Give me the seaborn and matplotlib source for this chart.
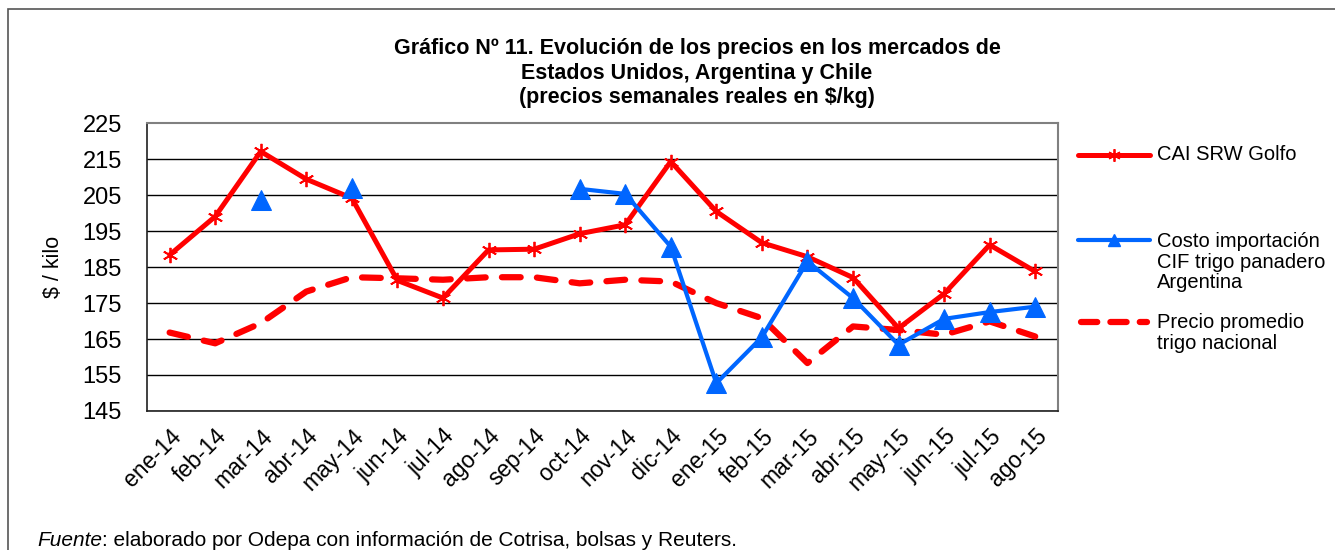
import numpy as np
import pandas as pd
import matplotlib
matplotlib.use("Agg")
import matplotlib.pyplot as plt
from matplotlib.lines import Line2D
from matplotlib.patches import Rectangle
import seaborn as sns

# datos
meses = ["ene-14", "feb-14", "mar-14", "abr-14", "may-14", "jun-14", "jul-14",
         "ago-14", "sep-14", "oct-14", "nov-14", "dic-14", "ene-15", "feb-15",
         "mar-15", "abr-15", "may-15", "jun-15", "jul-15", "ago-15"]
cai_srw = [188.4, 199.1, 217.2, 209.5, 204.2, 181.3, 176.4, 189.8, 190.0, 194.3,
           196.8, 214.4, 200.5, 191.8, 187.9, 182.1, 168.0, 177.6, 191.2, 183.8]
costo_arg = [np.nan, np.nan, 203.8, np.nan, 207.1, np.nan, np.nan, np.nan, np.nan, 206.8,
             205.4, 190.7, 152.7, 165.5, 186.6, 176.4, 163.4, 170.6, 172.5, 174.0]
precio_nac = [166.8, 163.8, 169.4, 178.2, 182.2, 181.9, 181.5, 182.2, 182.2, 180.5,
              181.5, 181.0, 175.0, 170.8, 158.3, 168.5, 167.5, 166.2, 169.9, 165.7]
yticks = list(range(145, 226, 10))

ROJO = "#FF0000"
AZUL = "#0066FF"

sns.set_style("white")
plt.rcParams["font.family"] = ["Liberation Sans", "DejaVu Sans"]
plt.rcParams["text.color"] = "black"
plt.rcParams["axes.labelcolor"] = "black"
plt.rcParams["xtick.color"] = "black"
plt.rcParams["ytick.color"] = "black"

df = pd.DataFrame({"x": np.arange(len(meses)), "mes": meses, "cai": cai_srw,
                   "costo": costo_arg, "precio": precio_nac})
# tramos continuos de la serie azul (se corta donde falta dato)
df["tramo"] = df["costo"].isna().cumsum()
azul = df.dropna(subset=["costo"])

fig = plt.figure(figsize=(13.35, 5.5), dpi=100)
ax = fig.add_axes([0.110, 0.253, 0.6825, 0.5225])

for y in yticks[:-1]:
    ax.axhline(y, color="black", lw=1, zorder=0)

sns.lineplot(data=df, x="x", y="precio", ax=ax, color=ROJO, lw=4.5,
             dashes=False, zorder=2, solid_capstyle="round")
ax.lines[-1].set_dashes((3, 2.6))
ax.lines[-1].set_dash_capstyle("round")
sns.lineplot(data=df, x="x", y="cai", ax=ax, color=ROJO, lw=3.6, zorder=3,
             marker=(6, 2, 0), markersize=11, markeredgecolor=ROJO, markeredgewidth=1.3)
sns.lineplot(data=azul, x="x", y="costo", units="tramo", estimator=None, ax=ax,
             color=AZUL, lw=3.0, zorder=4, marker="^", markersize=15,
             markeredgecolor=AZUL)

ax.set_xlim(-0.5, len(meses) - 0.5)
ax.set_ylim(145, 225)
ax.set_yticks(yticks)
ax.set_yticklabels([str(v) for v in yticks], fontsize=17)
ax.set_xticks(df["x"])
ax.set_xticklabels(meses, rotation=45, ha="right", rotation_mode="anchor", fontsize=16.5)
ax.set_xticks(np.arange(-0.5, len(meses), 1), minor=True)
ax.tick_params(axis="x", which="major", length=0, pad=10)
ax.tick_params(axis="x", which="minor", length=7, width=1, color="black", direction="out")
ax.tick_params(axis="y", length=6, width=1, color="black", direction="out", pad=12)
ax.set_xlabel("")
ax.set_ylabel("\\$ / kilo", fontsize=15.5, labelpad=13)
for s in ["top", "right"]:
    ax.spines[s].set_color("#808080")
    ax.spines[s].set_linewidth(1.5)
for s in ["left", "bottom"]:
    ax.spines[s].set_color("#202020")
    ax.spines[s].set_linewidth(1.2)

# marco exterior
fig.add_artist(Rectangle((8 / 1335, -0.1), 1.2, 1 - 9 / 550 + 0.1, transform=fig.transFigure,
                         fill=False, ec="#555555", lw=1.2))

fig.text(697 / 1335, 1 - 73 / 550,
         "Gráfico Nº 11. Evolución de los precios en los mercados de\n"
         "Estados Unidos, Argentina y Chile\n"
         "(precios semanales reales en $/kg)",
         ha="center", va="center", fontsize=15.5, fontweight="bold", linespacing=1.2)

# leyenda
W, H = 1335, 550
def fx(px):
    return px / W
def fy(py):
    return 1 - py / H

fig.add_artist(Line2D([fx(1078), fx(1150)], [fy(155), fy(155)], color=ROJO, lw=3.6,
                      transform=fig.transFigure))
fig.add_artist(Line2D([fx(1114)], [fy(155)], color=ROJO, marker=(6, 2, 0), markersize=9,
                      markeredgewidth=1.3, transform=fig.transFigure))
fig.add_artist(Line2D([fx(1078), fx(1150)], [fy(240), fy(240)], color=AZUL, lw=3.0,
                      transform=fig.transFigure))
fig.add_artist(Line2D([fx(1114)], [fy(240)], color=AZUL, marker="^", markersize=8,
                      transform=fig.transFigure))
dash = Line2D([fx(1081), fx(1147)], [fy(322), fy(322)], color=ROJO, lw=4.5,
              transform=fig.transFigure, solid_capstyle="round")
dash.set_dashes((2.6, 2.1))
dash.set_dash_capstyle("round")
fig.add_artist(dash)

fig.text(fx(1157), fy(155), "CAI SRW Golfo", fontsize=14.5, va="center")
fig.text(fx(1157), fy(262), "Costo importación\nCIF trigo panadero\nArgentina",
         fontsize=14.5, va="center", linespacing=1.08)
fig.text(fx(1157), fy(333), "Precio promedio\ntrigo nacional",
         fontsize=14.5, va="center", linespacing=1.08)

# fuente
t1 = fig.text(fx(37), fy(541), "Fuente", fontsize=15, style="italic", va="center")
fig.canvas.draw()
bb = t1.get_window_extent(renderer=fig.canvas.get_renderer())
fig.text(bb.x1 / W, fy(541), ": elaborado por Odepa con información de Cotrisa, bolsas y Reuters.",
         fontsize=15, va="center")

fig.savefig("out.png", dpi=100)
